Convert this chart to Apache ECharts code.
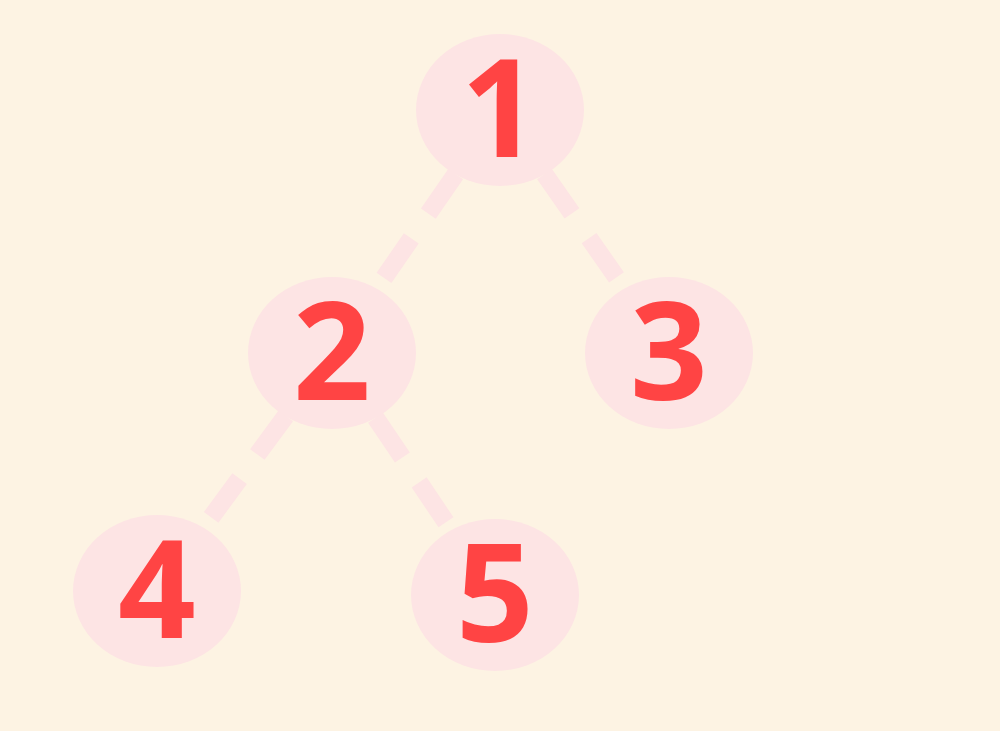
<!DOCTYPE html>
<html>
<head>
<meta charset="utf-8">
<script src="https://cdn.jsdelivr.net/npm/echarts@6/dist/echarts.min.js"></script>
<style>html,body{margin:0;padding:0;background:#fdf3e3}#main{width:1000px;height:731px}</style>
</head>
<body>
<div id="main"></div>
<script>
var names = ['1', '2', '3', '4', '5'];
var xs = [500, 332, 669, 157, 495];
var ys = [110, 353, 353, 591, 595];
var links = [['1', '2'], ['1', '3'], ['2', '4'], ['2', '5']];

var chart = echarts.init(document.getElementById('main'));

var nodes = [];
for (var i = 0; i < names.length; i++) {
    nodes.push({ name: names[i], value: [xs[i], ys[i]] });
}

var option = {
    backgroundColor: '#fdf3e3',
    grid: { left: 0, right: 0, top: 0, bottom: 0 },
    xAxis: { type: 'value', min: 0, max: 1000, show: false },
    yAxis: { type: 'value', min: 0, max: 731, inverse: true, show: false },
    series: [{
        type: 'graph',
        coordinateSystem: 'cartesian2d',
        symbol: 'circle',
        symbolSize: [168, 152],
        itemStyle: { color: '#fde4e4' },
        label: {
            show: true,
            position: 'inside',
            offset: [0, 8],
            fontSize: 136,
            fontWeight: 'bold',
            fontFamily: 'Open Sans',
            color: '#ff4444'
        },
        lineStyle: {
            color: '#fde4e4',
            width: 18,
            type: [48, 30],
            opacity: 1
        },
        data: nodes,
        links: links.map(function (l) { return { source: l[0], target: l[1] }; })
    }]
};

chart.setOption(option);
</script>
</body>
</html>
